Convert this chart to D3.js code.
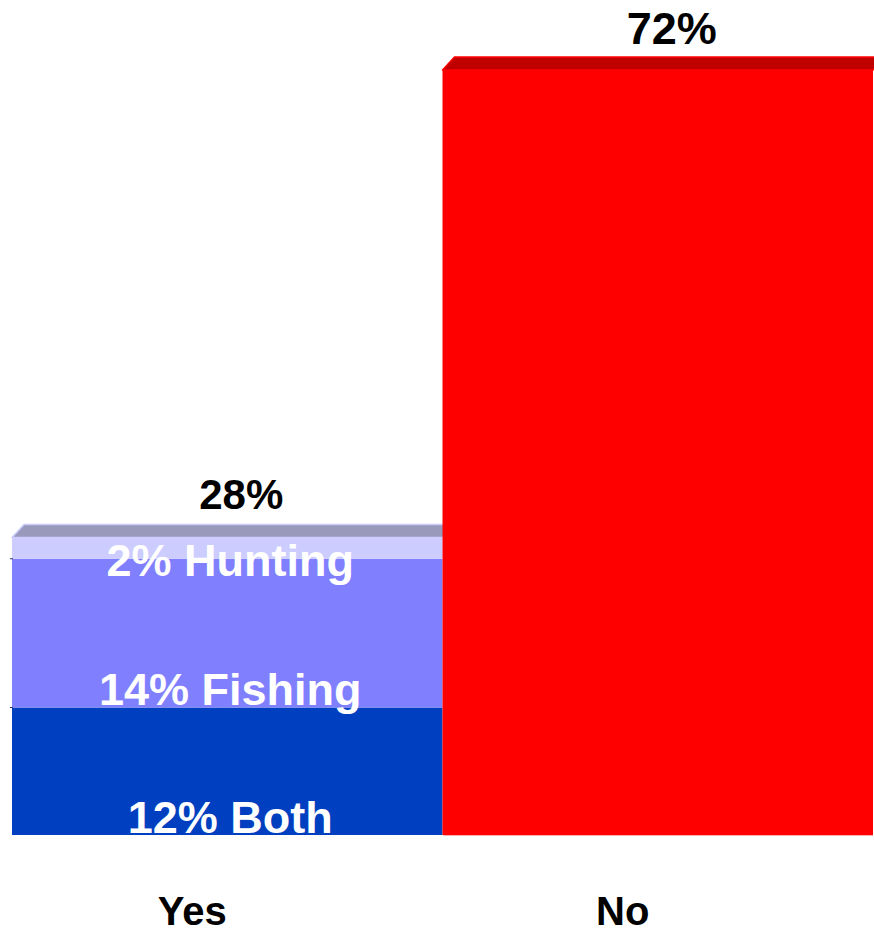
<!DOCTYPE html>
<html>
<head>
<meta charset="utf-8">
<script src="https://cdn.jsdelivr.net/npm/d3@7"></script>
<style>
  html, body { margin: 0; padding: 0; background: #fff; }
  svg { display: block; }
  text { font-family: "Liberation Sans", Arial, sans-serif; font-weight: bold; }
</style>
</head>
<body>
<svg id="chart" width="874" height="935"></svg>
<script>
// Share answering "Yes" and "No"
const categories = ["Yes", "No"];
const totals = [0.28, 0.72];
const totalLabels = ["28%", "72%"];

// Breakdown of the "Yes" answers, stacked from the bottom up
const yesParts = ["Both", "Fishing", "Hunting"];
const yesValues = [0.12, 0.14, 0.02];
const yesLabels = ["12% Both", "14% Fishing", "2% Hunting"];

const width = 874, height = 935;
const svg = d3.select("#chart");

const x = d3.scaleBand().domain(categories).range([12, 873]).padding(0);
const y = d3.scaleLinear().domain([0, 0.72]).range([835, 70]);

const depthX = 12, depthY = 13;
const segColors = { Both: "#0040c0", Fishing: "#8080ff", Hunting: "#ccccff" };
const noColor = "#ff0000";
const topColors = { Yes: { fill: "#9999bb", stroke: "#ccccff" }, No: { fill: "#c00000", stroke: "#ff0000" } };

// stack the Yes breakdown
let acc = 0;
const yesStack = yesParts.map((p, i) => {
  const s = { part: p, y0: acc, y1: acc + yesValues[i], label: yesLabels[i] };
  acc += yesValues[i];
  return s;
});

function topFace(cat, total) {
  const x0 = x(cat), x1 = x(cat) + x.bandwidth(), yt = y(total);
  return `M${x0},${yt} L${x0 + depthX},${yt - depthY} L${x1 + depthX},${yt - depthY} L${x1},${yt} Z`;
}

// Yes bar: stacked segments and its top face
const gYes = svg.append("g");
gYes.selectAll("rect").data(yesStack).join("rect")
  .attr("x", x("Yes"))
  .attr("width", x.bandwidth())
  .attr("y", d => y(d.y1))
  .attr("height", d => y(d.y0) - y(d.y1))
  .attr("fill", d => segColors[d.part]);
gYes.append("path")
  .attr("d", topFace("Yes", totals[0]))
  .attr("fill", topColors.Yes.fill)
  .attr("stroke", topColors.Yes.stroke)
  .attr("stroke-width", 1.5)
  .attr("stroke-linejoin", "round");

// small edge marks at the segment boundaries
gYes.selectAll("line.tick").data(yesStack.slice(0, 2)).join("line")
  .attr("class", "tick")
  .attr("x1", x("Yes") - 2).attr("x2", x("Yes") + 1)
  .attr("y1", d => y(d.y1)).attr("y2", d => y(d.y1))
  .attr("stroke", "#333366").attr("stroke-width", 1);

// No bar drawn on top so it covers the Yes top face overhang
const gNo = svg.append("g");
gNo.append("rect")
  .attr("x", x("No"))
  .attr("width", x.bandwidth())
  .attr("y", y(totals[1]))
  .attr("height", y(0) - y(totals[1]))
  .attr("fill", noColor);
gNo.append("path")
  .attr("d", topFace("No", totals[1]))
  .attr("fill", topColors.No.fill)
  .attr("stroke", topColors.No.stroke)
  .attr("stroke-width", 1.5)
  .attr("stroke-linejoin", "round");
gNo.append("line")
  .attr("x1", x("No") + 1).attr("x2", x("No") + x.bandwidth())
  .attr("y1", y(0) + 0.5).attr("y2", y(0) + 0.5)
  .attr("stroke", "#ffb0b0").attr("stroke-width", 1);

// segment labels inside the Yes bar (baseline offsets from each segment bottom)
const segLabelShift = [-2, -3, 17];
svg.selectAll("text.seg").data(yesStack).join("text")
  .attr("class", "seg")
  .attr("x", x("Yes") + x.bandwidth() / 2 + 3)
  .attr("y", (d, i) => y(d.y0) + segLabelShift[i])
  .attr("text-anchor", "middle")
  .attr("font-size", 45)
  .attr("fill", "#ffffff")
  .text(d => d.label);

// total labels above each bar
const totalFont = [42, 45];
svg.selectAll("text.total").data(categories).join("text")
  .attr("class", "total")
  .attr("x", d => x(d) + x.bandwidth() / 2 + depthX + 2)
  .attr("y", (d, i) => y(totals[i]) - depthY - (i === 0 ? 16 : 13))
  .attr("text-anchor", "middle")
  .attr("font-size", (d, i) => totalFont[i])
  .attr("fill", "#000")
  .text((d, i) => totalLabels[i]);

// category axis labels
svg.selectAll("text.cat").data(categories).join("text")
  .attr("class", "cat")
  .attr("x", d => x(d) + x.bandwidth() / 2 - 35)
  .attr("y", 925)
  .attr("text-anchor", "middle")
  .attr("font-size", 40)
  .attr("fill", "#000")
  .text(d => d);
</script>
</body>
</html>
